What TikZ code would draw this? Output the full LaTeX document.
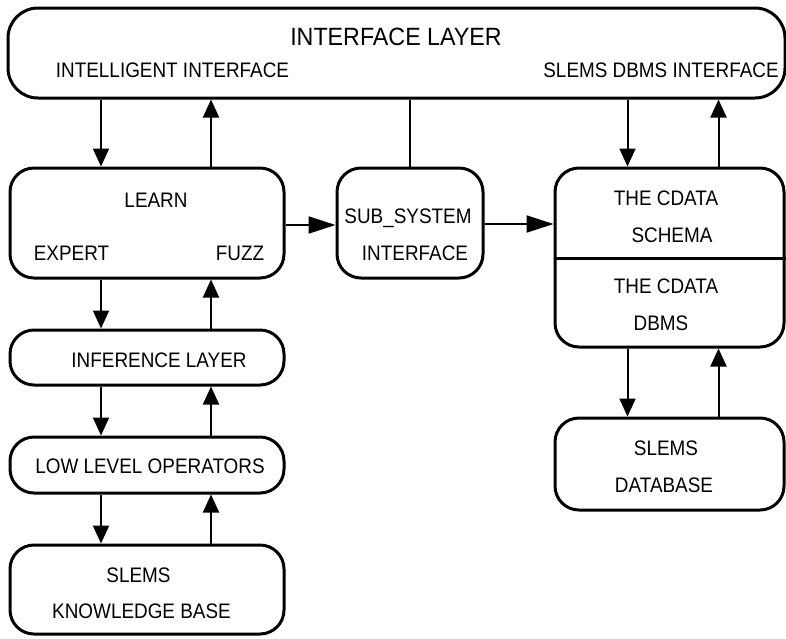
\documentclass[tikz,border=0pt]{standalone}
\usepackage{fontspec}
\usepackage{graphicx}
\setmainfont{Liberation Sans}
\usetikzlibrary{arrows.meta}

% condensed caps as used for all labels
\newcommand\cond[1]{\scalebox{0.9}[1]{#1}}
\newcommand\condt[1]{\scalebox{0.93}[1]{#1}}

\begin{document}
\begin{tikzpicture}[x=1pt,y=-1pt,
  box/.style={draw, line width=3pt, rounded corners=24pt, inner sep=0pt},
  lbl/.style={anchor=base, inner sep=0pt, font=\fontsize{21}{21}\selectfont},
  ttl/.style={anchor=base, inner sep=0pt, font=\fontsize{25}{25}\selectfont},
  varr/.style={line width=2pt, -{Triangle[length=18pt,width=16pt]}},
  harr/.style={line width=2pt, -{Triangle[length=27pt,width=17pt]}},
  plain/.style={line width=2.8pt}]
\useasboundingbox (0,0) rectangle (786,638);
\fill[white] (0,0) rectangle (786,638);

% boxes
\node[box, rounded corners=30pt, minimum width=777pt, minimum height=90pt] (iface) at (396.5,53) {};
\node[box, minimum width=274pt, minimum height=110pt] (learn) at (147,223) {};
\node[box, minimum width=146pt, minimum height=110pt] (sub) at (410,223) {};
\node[box, minimum width=229pt, minimum height=179pt] (cdata) at (669.5,257.5) {};
\node[box, minimum width=229pt, minimum height=92pt] (db) at (669.5,464) {};
\node[box, minimum width=274pt, minimum height=55pt] (infer) at (147,357.5) {};
\node[box, minimum width=274pt, minimum height=56pt] (low) at (147,465) {};
\node[box, minimum width=274pt, minimum height=89pt] (kb) at (147,589.5) {};

% divider between schema and dbms
\coordinate (divy) at (0,258);
\draw[line width=3pt] (cdata.west |- divy) -- (cdata.east |- divy);

% labels
\node[ttl] (tIface) at (396,45) {\condt{INTERFACE LAYER}};
\node[lbl] (tIntel) at (172.5,77) {\cond{INTELLIGENT INTERFACE}};
\node[lbl] (tDbmsIf) at (661,77) {\cond{SLEMS DBMS INTERFACE}};
\node[lbl] (tLearn) at (156,207) {\cond{LEARN}};
\node[lbl] (tExpert) at (71.5,260) {\cond{EXPERT}};
\node[lbl] (tFuzz) at (240,260) {\cond{FUZZ}};
\node[lbl] (tSub1) at (408,223) {\cond{SUB\_SYSTEM}};
\node[lbl] (tSub2) at (415,260) {\cond{INTERFACE}};
\node[lbl] (tCd1) at (666,205) {\cond{THE CDATA}};
\node[lbl] (tCd2) at (672,242) {\cond{SCHEMA}};
\node[lbl] (tCd3) at (666,293) {\cond{THE CDATA}};
\node[lbl] (tCd4) at (661,330) {\cond{DBMS}};
\node[lbl] (tDb1) at (666,455) {\cond{SLEMS}};
\node[lbl] (tDb2) at (664,492) {\cond{DATABASE}};
\node[lbl] (tInf) at (159,367) {\cond{INFERENCE LAYER}};
\node[lbl] (tLow) at (150,473) {\cond{LOW LEVEL OPERATORS}};
\node[lbl] (tKb1) at (138.5,582) {\cond{SLEMS}};
\node[lbl] (tKb2) at (141.5,618) {\cond{KNOWLEDGE BASE}};

% connector columns
\coordinate (cDown) at (101,0);
\coordinate (cUp) at (211,0);
\coordinate (cMid) at (410,0);
\coordinate (rDown) at (627.5,0);
\coordinate (rUp) at (718.5,0);

% left column
\draw[varr] (iface.south -| cDown) -- (learn.north -| cDown);
\draw[varr] (learn.north -| cUp) -- (iface.south -| cUp);
\draw[varr] (learn.south -| cDown) -- (infer.north -| cDown);
\draw[varr] (infer.north -| cUp) -- (learn.south -| cUp);
\draw[varr] (infer.south -| cDown) -- (low.north -| cDown);
\draw[varr] (low.north -| cUp) -- (infer.south -| cUp);
\draw[varr] (low.south -| cDown) -- (kb.north -| cDown);
\draw[varr] (kb.north -| cUp) -- (low.south -| cUp);

% middle
\draw[plain] (iface.south -| cMid) -- (sub.north);
\draw[harr] (learn.east |- 0,225) -- (sub.west |- 0,225);
\draw[harr] (sub.east |- 0,224) -- (cdata.west |- 0,224);

% right column
\draw[varr] (iface.south -| rDown) -- (cdata.north -| rDown);
\draw[varr] (cdata.north -| rUp) -- (iface.south -| rUp);
\draw[varr] (cdata.south -| rDown) -- (db.north -| rDown);
\draw[varr] (db.north -| rUp) -- (cdata.south -| rUp);
\end{tikzpicture}
\end{document}
